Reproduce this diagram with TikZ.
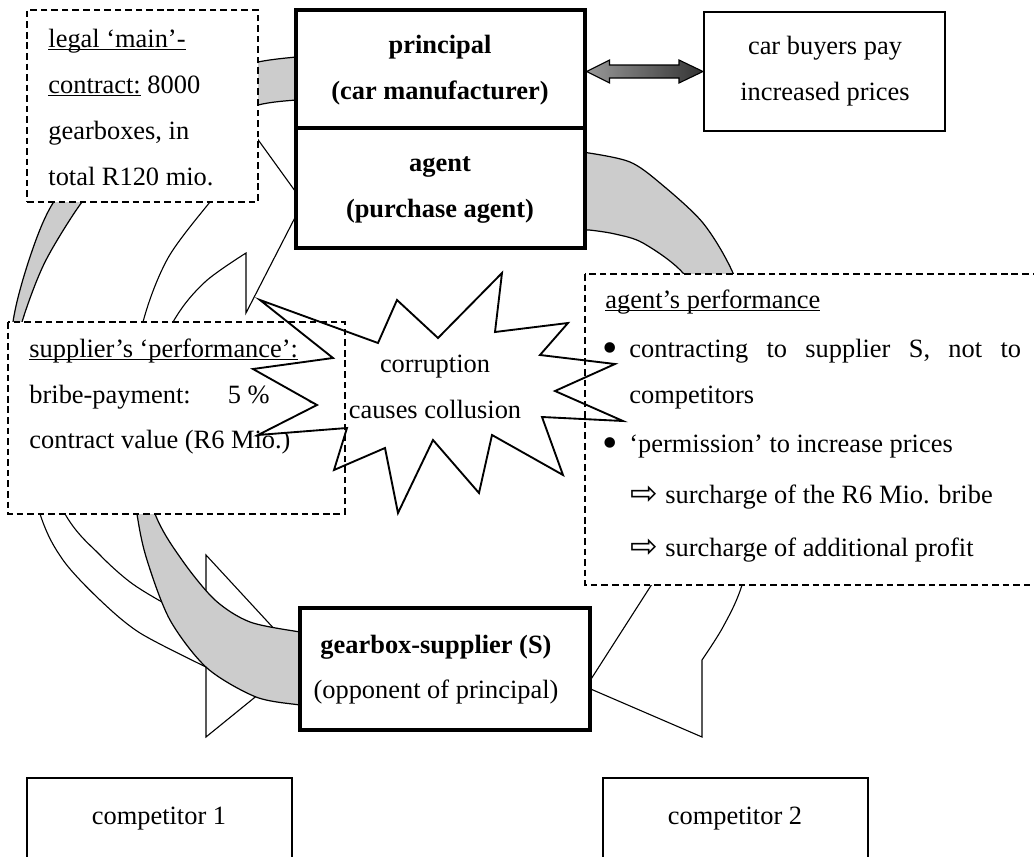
\documentclass[tikz,border=0pt]{standalone}
\usepackage{fontspec}
\setmainfont{Liberation Serif}
\newfontfamily\arrowfont{DejaVu Sans}
\usetikzlibrary{calc,fit}
\definecolor{backgray}{HTML}{CCCCCC}
\newsavebox{\ulbox}
\newcommand{\uln}[1]{\sbox{\ulbox}{#1}\rlap{\rule[-1.4pt]{\wd\ulbox}{0.6pt}}\usebox{\ulbox}}
\newcommand{\bigdot}{\raisebox{-2.3pt}{\fontsize{20}{20}\selectfont\textbullet}}
\newcommand{\hintarrow}{\raisebox{-0.6pt}{\fontsize{15}{15}\selectfont\arrowfont ⇨}}

\begin{document}
\begin{tikzpicture}[
  x=0.4545pt, y=-0.4545pt,
  txt/.style={font=\fontsize{12}{14}\selectfont, inner sep=0pt},
  headtxt/.style={font=\fontsize{12}{14}\selectfont\bfseries, inner sep=0pt},
  heavybox/.style={draw, line width=1.4pt, fill=white, inner sep=0pt},
  plainbox/.style={draw, line width=0.9pt, fill=white, inner sep=0pt},
  dashframe/.style={draw, line width=0.7pt, dash pattern=on 3pt off 1.8pt},
  sheet/.style={fill=white, inner sep=0pt, outer sep=0pt},
  ribbon/.style={draw, line width=0.5pt, fill=white},
  backface/.style={draw, line width=0.55pt, fill=backgray},
]
% all coordinates are pixels of the 1034 x 857 page, y pointing down
\useasboundingbox (0,0) rectangle (1034,857);

% --- curved arrow: principal -> gearbox supplier (left side)
\path[ribbon] plot[smooth] coordinates {(10,400) (40,514) (63,560) (100,600) (140,633) (206,667)}
  -- (206,737) -- (302,659) -- (206,555) -- (206,625)
  -- plot[smooth] coordinates {(206,625) (162,602) (130,582) (100,555) (65,514) (10,400)} -- cycle;
\path[backface] plot[smooth] coordinates {(312,56) (296,57) (258,62) (200,77) (150,103) (100,145) (53,203) (30,257) (13,322) (10,400)}
  -- plot[smooth] coordinates {(10,400) (12,372) (22,322) (45,262) (82,202) (110,176) (150,148) (200,124) (258,105) (296,100) (312,100)} -- cycle;

% --- curved arrow: gearbox supplier -> agent (the bribe)
\path[ribbon] plot[smooth] coordinates {(125,420) (143,322) (168,258) (210,202) (232,178) (246,165)}
  -- (246,123) -- (303,202) -- (246,313) -- (246,253)
  -- plot[smooth] coordinates {(246,253) (205,282) (173,322) (125,420)} -- cycle;
\path[backface] plot[smooth] coordinates {(125,420) (137,514) (147,560) (170,620) (207,668) (256,697) (300,705) (312,706)}
  -- plot[smooth] coordinates {(312,633) (300,632) (250,622) (215,600) (182,560) (155,514) (125,420)} -- cycle;

% --- curved arrow: agent -> gearbox supplier (right side)
\path[ribbon] plot[smooth] coordinates {(765,420) (762,500) (742,585) (723,627) (702,660)}
  -- (702,737) -- (586,687) -- (702,506) -- (702,560)
  -- plot[smooth] coordinates {(702,560) (735,500) (765,420)} -- cycle;
\path[backface] plot[smooth] coordinates {(575,153) (589,153) (630,162) (660,183) (703,223) (733,273) (755,340) (765,420)}
  -- plot[smooth] coordinates {(765,420) (720,330) (683,273) (643,243) (615,234) (589,230) (575,230)} -- cycle;

% --- boxes
\node[heavybox, fit={(296,10) (585,128)}] (principal) {};
\node[heavybox, fit={(296,128) (585,248)}] (agent) {};
\node[plainbox, fit={(704,12) (945,131)}] (buyers) {};
\node[heavybox, fit={(300,608) (590,730)}] (supplier) {};
\node[plainbox, fit={(27,778) (292,880)}] (rival1) {};
\node[plainbox, fit={(603,778) (868,880)}] (rival2) {};
\node[sheet, dashframe, fit={(27,10) (258,202)}] (contract) {};
\node[sheet, fit={(8,322) (345,514)}] (bribe) {};
\node[sheet, fit={(585,274) (1045,585)}] (perform) {};

% --- shaded double arrow principal <-> car buyers
\coordinate (dtip) at (principal.east |- buyers.west);
\path[draw, line width=0.5pt, left color=black!40, right color=black!80]
  (dtip) -- ++(23,-11.5) -- ++(0,5) -- ($(buyers.west)+(-24,-6.5)$) -- ++(0,-5) -- (buyers.west)
  -- ++(-24,11.5) -- ++(0,-5) -- ($(dtip)+(23,6.5)$) -- ++(0,5) -- cycle;

% --- text of the boxes, one node per printed line
\foreach \yy/\lbl [count=\i] in {53/principal, 99/{(car manufacturer)}}
  \node[headtxt, anchor=base] (principal-\i) at (440,\yy) {\lbl};
\foreach \yy/\lbl [count=\i] in {171/agent, 217/{(purchase agent)}}
  \node[headtxt, anchor=base] (agent-\i) at (440,\yy) {\lbl};
\foreach \yy/\lbl [count=\i] in {55/{car buyers pay}, 101/{increased prices}}
  \node[txt, anchor=base] (buyers-\i) at (825,\yy) {\lbl};
\node[headtxt, anchor=base] (supplier-1) at (436,653) {gearbox-supplier (S)};
\node[txt, anchor=base] (supplier-2) at (436,698) {(opponent of principal)};
\node[txt, anchor=base] (rival1-1) at (159,824) {competitor 1};
\node[txt, anchor=base] (rival2-1) at (735,824) {competitor 2};

\foreach \yy/\lbl [count=\i] in {47/{\uln{legal ‘main’-}}, 93/{\uln{contract:} 8000},
    139/{gearboxes, in}, 185/{total R120 mio.}}
  \node[txt, anchor=base west] (contract-\i) at (48,\yy) {\lbl};

\foreach \yy/\lbl [count=\i] in {357/{\uln{supplier’s ‘performance’:}},
    403/{\makebox[136pt][l]{bribe-payment:\hfill 5 \%\hfill of}},
    448/{contract value (R6 Mio.)}}
  \node[txt, anchor=base west] (bribe-\i) at (29,\yy) {\lbl};

\node[txt, anchor=base west] (perform-1) at (605,308) {\uln{agent’s performance}};
\node[txt, anchor=base west] (dot-1) at (602,357) {\bigdot};
\node[txt, anchor=base west] (perform-2) at (629,357) {\makebox[178pt][s]{contracting to supplier S, not to}};
\node[txt, anchor=base west] (perform-3) at (629,403) {competitors};
\node[txt, anchor=base west] (dot-2) at (602,452) {\bigdot};
\node[txt, anchor=base west] (perform-4) at (629,452) {‘permission’ to increase prices};
\foreach \yy/\lbl [count=\i] in {503/{surcharge of the R6 Mio. bribe}, 556/{surcharge of additional profit}} {
  \node[txt, anchor=base west] (hint-\i) at (630,\yy) {\hintarrow};
  \node[txt, anchor=base west] (perform-sub-\i) at (665,\yy) {\lbl};
}

% --- corruption star, laid over both performance boxes
\path[draw, line width=0.85pt, fill=white] (260,300) -- (378,343) -- (397,300) -- (438,338)
  -- (502,273) -- (495,332) -- (568,323) -- (540,355) -- (615,364) -- (555,391)
  -- (623,421) -- (542,417) -- (563,475) -- (492,435) -- (479,493) -- (433,440)
  -- (398,513) -- (385,448) -- (334,470) -- (347,428) -- (258,435) -- (317,405)
  -- (253,369) -- (333,358) -- cycle;
\node[txt, anchor=base] (star-1) at (435,372) {corruption};
\node[txt, anchor=base] (star-2) at (435,418) {causes collusion};

% --- dashed frames stay visible over the star
\draw[dashframe] (bribe.north west) rectangle (bribe.south east);
\draw[dashframe] (perform.north west) rectangle (perform.south east);
\end{tikzpicture}
\end{document}
